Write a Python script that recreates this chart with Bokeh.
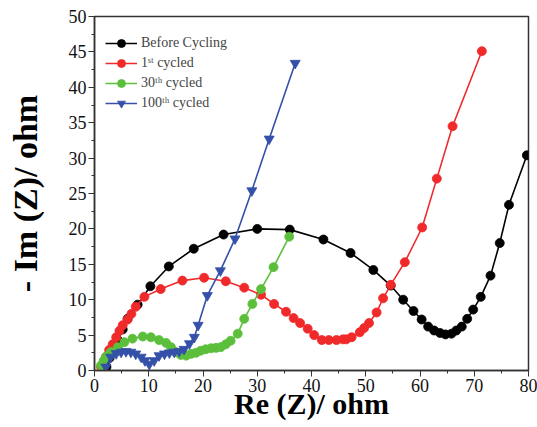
from bokeh.plotting import figure
from bokeh.models import Legend, LegendItem, FixedTicker, Range1d
from bokeh.embed import file_html
from bokeh.resources import INLINE

# Before Cycling
bx = [2.2, 2.8, 3.5, 4.3, 5.2, 6.1, 7.95, 10.3, 13.7, 18.3, 23.8, 30.0, 36.0, 42.2, 47.2, 51.4, 54.6,
      56.9, 58.8, 60.3, 61.5, 62.6, 63.7, 64.7, 65.8, 66.7, 67.7, 68.7, 69.8, 71.2, 73.0, 74.7, 76.4, 79.7]
by = [0.5, 1.8, 3.0, 4.3, 5.8, 7.3, 9.3, 11.9, 14.7, 17.2, 19.2, 20.0, 19.9, 18.5, 16.6, 14.2, 12.0,
      10.0, 8.4, 7.2, 6.2, 5.65, 5.3, 5.1, 5.2, 5.65, 6.2, 7.3, 8.6, 10.4, 13.4, 18.0, 23.4, 30.4]

# 1st cycled
rx = [1.2, 2.1, 2.7, 3.35, 4.0, 4.6, 5.2, 6.1, 6.8, 7.6, 9.2, 12.2, 16.2, 20.2, 24.2, 27.6, 30.7, 33.1,
      35.3, 36.7, 37.9, 39.3, 40.5, 41.9, 43.2, 44.6, 45.8, 46.4, 47.4, 48.9, 49.7, 50.6, 52.0, 53.2,
      54.6, 57.2, 60.4, 63.1, 66.0, 71.4]
ry = [0.5, 1.9, 2.9, 3.7, 4.7, 5.6, 6.4, 7.2, 8.0, 9.0, 10.4, 11.5, 12.7, 13.1, 12.6, 11.7, 10.7, 9.4,
      8.3, 7.4, 6.7, 5.9, 5.0, 4.3, 4.3, 4.3, 4.4, 4.4, 4.7, 5.4, 6.0, 6.7, 8.2, 10.2,
      12.1, 15.3, 20.2, 27.1, 34.5, 45.1]

# 30th cycled
gx = [1.2, 1.7, 2.2, 3.0, 4.3, 5.5, 7.0, 8.9, 10.4, 11.9, 13.2, 14.1, 15.0, 15.9, 16.9, 17.8, 18.7,
      19.6, 20.5, 21.5, 22.4, 23.3, 24.2, 25.1, 26.4, 27.6, 29.1, 30.7, 33.0, 35.9]
gy = [0.7, 1.4, 2.0, 2.6, 3.3, 4.0, 4.5, 4.8, 4.7, 4.3, 3.9, 3.3, 2.6, 2.2, 2.1, 2.35, 2.5,
      2.8, 3.0, 3.15, 3.2, 3.3, 3.7, 4.2, 5.2, 7.3, 9.4, 11.5, 14.6, 18.9]

# 100th cycled
ux = [2.1, 3.0, 4.0, 4.9, 5.8, 6.7, 7.6, 8.6, 9.3, 10.1, 11.0, 11.9, 12.9, 13.8, 14.7, 15.6, 16.5,
      17.5, 18.4, 19.1, 20.8, 23.2, 25.9, 29.0, 32.2, 37.0]
uy = [0.5, 1.9, 2.4, 2.6, 2.7, 2.6, 2.35, 1.9, 1.4, 0.9, 1.4, 2.1, 2.35, 2.5, 2.6, 2.7, 3.0,
      3.8, 4.7, 6.4, 10.6, 14.1, 18.6, 25.4, 32.7, 43.4]

x_ticks = [0, 10, 20, 30, 40, 50, 60, 70, 80]
y_ticks = [0, 5, 10, 15, 20, 25, 30, 35, 40, 45, 50]

FONT = "Liberation Serif"

p = figure(width=537, height=427, output_backend="svg", toolbar_location=None,
           x_range=Range1d(0, 80), y_range=Range1d(0, 50),
           min_border_left=94, min_border_right=9, min_border_top=16, min_border_bottom=57)
p.xgrid.visible = False
p.ygrid.visible = False
p.outline_line_color = "#333333"
p.outline_line_width = 1.5
p.background_fill_color = "white"
p.border_fill_color = "white"

series = [
    ("Before Cycling", bx, by, "#000000", "circle", 9),
    ("1ˢᵗ cycled", rx, ry, "#f02a2a", "circle", 9),
    ("30ᵗʰ cycled", gx, gy, "#5cbf3c", "circle", 9),
    ("100ᵗʰ cycled", ux, uy, "#3450a8", "inverted_triangle", 10),
]
items = []
for label, xs, ys, col, marker, sz in series:
    l = p.line(xs, ys, line_color=col, line_width=1.6)
    s = p.scatter(xs, ys, marker=marker, size=sz, fill_color=col, line_color=col, line_width=0.8)
    items.append(LegendItem(label=label, renderers=[l, s]))

legend = Legend(items=items, location=(11, 257), padding=0, spacing=0,
                glyph_width=32, glyph_height=20, label_standoff=4,
                label_text_font=FONT, label_text_font_size="14px",
                background_fill_alpha=0, border_line_alpha=0, label_height=20)
p.add_layout(legend)

for ax in (p.xaxis, p.yaxis):
    ax.major_label_text_font = FONT
    ax.major_label_text_font_size = "18px"
    ax.major_label_text_color = "#111111"
    ax.axis_label_text_font = FONT
    ax.axis_label_text_font_style = "bold"
    ax.axis_label_text_color = "#000000"
    ax.axis_line_color = "#333333"
    ax.axis_line_width = 1.5
    ax.major_tick_line_color = "#333333"
    ax.minor_tick_line_color = "#333333"
    ax.major_tick_out = 6
    ax.major_tick_in = 0
    ax.minor_tick_out = 3
    ax.minor_tick_in = 0
    ax.major_label_standoff = 2

p.xaxis.ticker = FixedTicker(ticks=x_ticks, minor_ticks=[v + 5 for v in x_ticks[:-1]])
p.yaxis.ticker = FixedTicker(ticks=y_ticks, minor_ticks=[v + 2.5 for v in y_ticks[:-1]])
p.xaxis.axis_label = "Re (Z)/ ohm"
p.yaxis.axis_label = "- Im (Z)/ ohm"
p.xaxis.axis_label_text_font_size = "30px"
p.yaxis.axis_label_text_font_size = "34px"
p.xaxis.axis_label_standoff = -8
p.yaxis.axis_label_standoff = 22

open("out.html", "w").write(file_html(p, INLINE))
